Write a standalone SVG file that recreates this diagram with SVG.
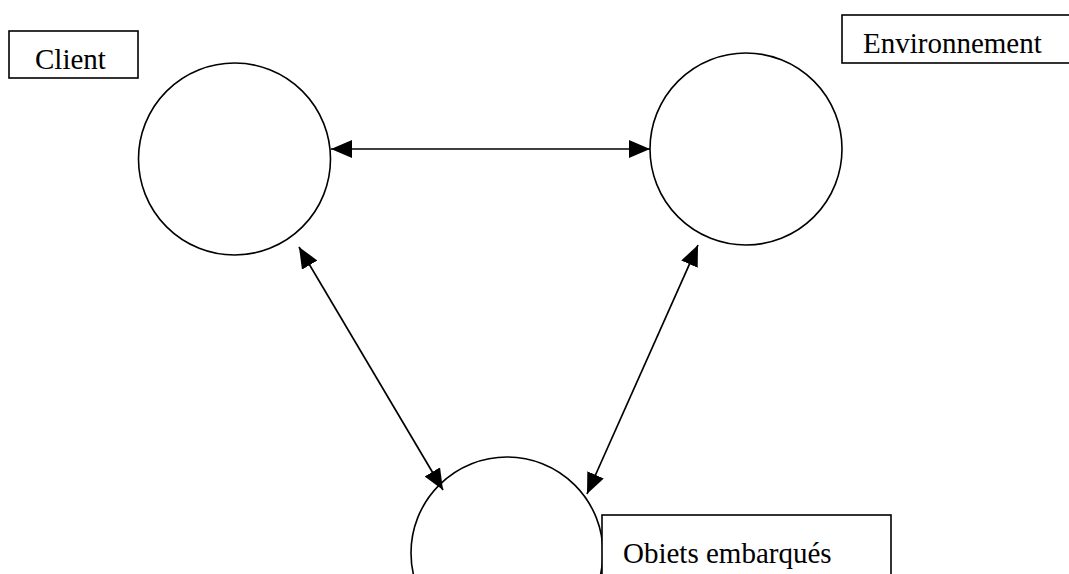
<svg xmlns="http://www.w3.org/2000/svg" width="1069" height="574" viewBox="0 0 1069 574">
<style>
.c{fill:#fff;stroke:#000;stroke-width:1.6}
.b{fill:#fff;stroke:#000;stroke-width:1.6}
.t{font-family:"Liberation Serif","Times New Roman",serif;font-size:29px;fill:#000}
.e{stroke:#000;stroke-width:1.7;fill:none;marker-start:url(#ah);marker-end:url(#ah)}
</style>
<defs>
<marker id="ah" viewBox="0 0 21 18" refX="21" refY="9" markerWidth="21" markerHeight="18" markerUnits="userSpaceOnUse" orient="auto-start-reverse">
<path d="M0,0 L21,9 L0,18 Z" fill="#000"/>
</marker>
</defs>
<rect width="1069" height="574" fill="#fff"/>
<g id="client">
<circle class="c" cx="234.5" cy="159" r="96"/>
<rect class="b" x="9" y="31" width="129" height="47"/>
<text class="t" x="35" y="69">Client</text>
</g>
<g id="environnement">
<circle class="c" cx="746" cy="149" r="96"/>
<rect class="b" x="842" y="15" width="240" height="48"/>
<text class="t" x="863" y="53">Environnement</text>
</g>
<g id="objets">
<circle class="c" cx="507" cy="553" r="96"/>
<rect class="b" x="602" y="515" width="289" height="70"/>
<text class="t" x="623" y="563">Obiets embarqués</text>
</g>
<g id="connectors">
<line class="e" x1="331" y1="149" x2="650" y2="149"/>
<line class="e" x1="299" y1="247" x2="443" y2="490"/>
<line class="e" x1="698" y1="245" x2="587" y2="494"/>
</g>
</svg>
